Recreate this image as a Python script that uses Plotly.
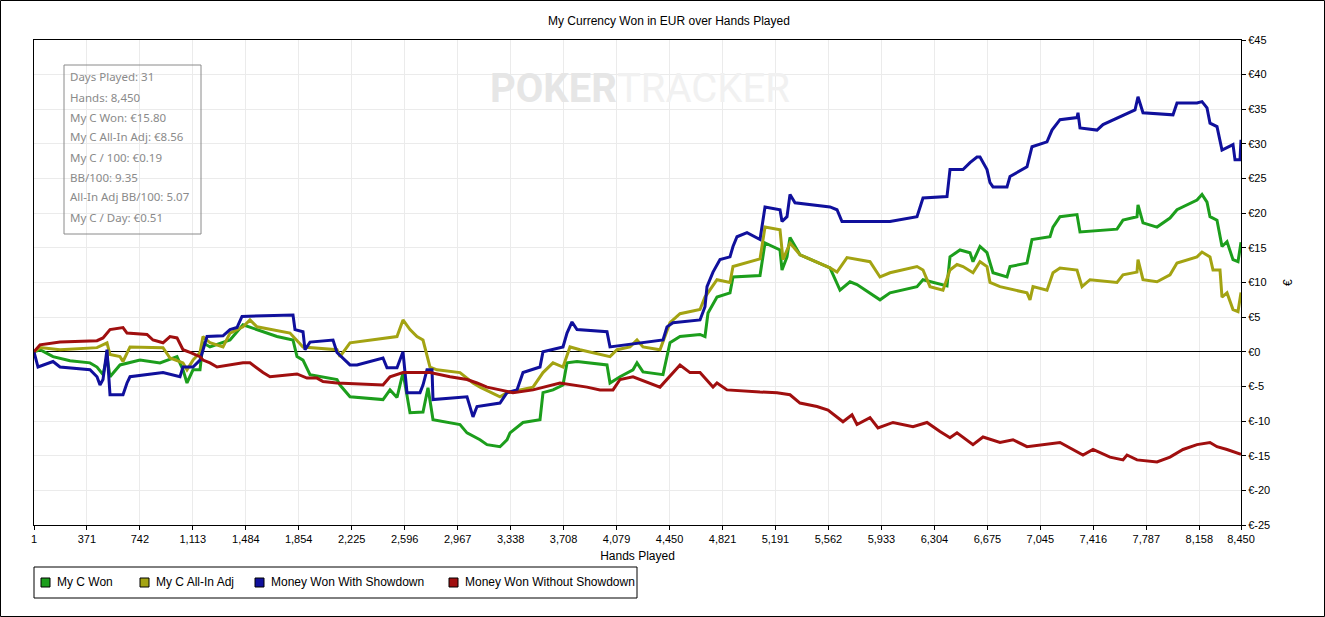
import plotly.graph_objects as go

# --- data (hands played, EUR) ---
green_hands = [1, 43, 134, 253, 393, 442, 484, 512, 533, 603, 743, 883, 1002, 1044, 1072, 1114, 1163, 1184, 1233,
               1373, 1464, 1562, 1702, 1814, 1842, 1884, 1933, 2122, 2143, 2213, 2444, 2493, 2542, 2584, 2633, 2724,
               2759, 2794, 2983, 3032, 3123, 3172, 3263, 3312, 3333, 3424, 3543, 3564, 3634, 3704, 3732, 3802, 4012,
               4033, 4103, 4194, 4222, 4264, 4404, 4453, 4523, 4663, 4698, 4719, 4782, 4873, 4894, 5083, 5118, 5223,
               5237, 5272, 5293, 5363, 5573, 5643, 5713, 5762, 5853, 5923, 5993, 6182, 6224, 6392, 6413, 6483, 6553,
               6574, 6623, 6672, 6714, 6812, 6833, 6952, 6987, 7113, 7134, 7183, 7302, 7323, 7582, 7624, 7722, 7729,
               7764, 7862, 7953, 8002, 8142, 8177, 8212, 8233, 8282, 8317, 8352, 8394, 8429, 8450]
green_won = [0, 0.3, -0.7, -1.3, -1.6, -2.2, -3.3, -0.7, -3.6, -1.9, -1.2, -1.6, -0.7, -2.6, -4.5, -2.6, -2.6, 1.3, 0.7,
             1.7, 3.9, 3.2, 2.2, 1.7, -0.7, -1.2, -3.3, -4.0, -4.8, -6.5, -6.9, -5.5, -6.6, -3.0, -8.8, -8.7,
             -5.2, -9.8, -10.5, -11.7, -12.7, -13.4, -13.7, -12.7, -11.7, -10.2, -9.8, -5.9, -5.5, -4.8, -1.6, -1.4, -1.9,
             -4.5, -3.6, -2.6, -1.6, -2.9, -3.3, 1.3, 2.2, 2.5, 2.2, 5.6, 7.9, 8.5, 10.8, 11.0, 15.7, 14.7,
             11.8, 13.7, 16.5, 14.0, 12.1, 8.9, 10.1, 9.7, 8.4, 7.5, 8.5, 9.4, 10.4, 9.5, 13.7, 14.7, 14.3,
             13.0, 15.2, 14.3, 11.4, 10.8, 12.3, 12.8, 16.2, 16.6, 18.0, 19.5, 19.8, 17.3, 17.7, 19.0, 19.5, 21.2,
             18.6, 18.0, 19.3, 20.5, 21.9, 22.7, 21.6, 19.5, 19.0, 15.2, 15.9, 13.3, 13.0, 15.8]

yellow_hands = [1, 43, 183, 442, 512, 533, 603, 624, 673, 904, 953, 1044, 1072, 1114, 1163, 1184, 1233, 1324, 1373,
                1464, 1513, 1562, 1793, 1842, 1884, 2122, 2143, 2213, 2542, 2584, 2633, 2682, 2724, 2773, 2822, 2983,
                3074, 3123, 3263, 3312, 3403, 3494, 3564, 3634, 3704, 3753, 3823, 4033, 4082, 4173, 4222, 4264, 4383,
                4453, 4523, 4663, 4698, 4782, 4873, 4894, 5083, 5118, 5223, 5244, 5293, 5363, 5573, 5622, 5692, 5853,
                5923, 5993, 6182, 6224, 6273, 6364, 6413, 6462, 6504, 6574, 6623, 6672, 6693, 6763, 6952, 6973, 6994,
                7092, 7134, 7183, 7302, 7337, 7393, 7582, 7624, 7722, 7729, 7764, 7862, 7953, 8002, 8142, 8177, 8233,
                8254, 8303, 8317, 8352, 8394, 8429, 8450]
yellow_adj = [0, 0.6, 0.3, 0.6, 1.3, -0.4, -0.7, -1.4, 0.7, 0.6, -0.9, -1.6, -2.6, -1.2, -0.1, 2.2, 1.3, 0.7, 2.7,
              3.6, 4.6, 3.6, 2.7, 1.7, 0.7, 0.3, -0.7, 1.3, 2.2, 4.6, 3.2, 2.2, 1.7, -2.2, -2.6, -3.0,
              -4.5, -5.1, -6.5, -5.9, -5.5, -5.1, -3.0, -1.6, -2.2, 0.7, 0.3, -0.7, 0.3, 0.7, 1.7, 0.7, 0.3,
              4.2, 5.5, 6.1, 7.9, 10.4, 10.0, 12.3, 13.4, 18.0, 17.6, 13.3, 15.7, 14.0, 12.1, 11.5, 13.6, 13.0,
              10.8, 11.4, 12.3, 11.8, 9.4, 8.9, 11.8, 12.6, 12.3, 11.4, 13.0, 12.3, 10.0, 9.4, 8.5, 7.5, 9.4,
              8.9, 11.4, 12.1, 11.8, 9.4, 10.4, 10.0, 11.1, 11.5, 13.3, 10.4, 10.1, 11.1, 12.8, 13.7, 14.4, 13.7,
              11.8, 11.8, 7.9, 8.5, 6.1, 5.8, 8.56]

blue_hands = [1, 29, 134, 183, 393, 442, 463, 484, 512, 533, 624, 652, 673, 904, 1023, 1044, 1114, 1163, 1212, 1324,
              1373, 1422, 1457, 1814, 1828, 1884, 1898, 1933, 2094, 2122, 2213, 2262, 2444, 2472, 2542, 2584, 2612,
              2703, 2724, 2752, 2787, 2794, 3032, 3074, 3102, 3263, 3312, 3382, 3424, 3543, 3564, 3704, 3732, 3767,
              3802, 4012, 4033, 4404, 4432, 4474, 4663, 4698, 4712, 4754, 4803, 4873, 4894, 4922, 4992, 5083, 5118,
              5223, 5237, 5272, 5293, 5328, 5573, 5622, 5657, 5944, 5993, 6182, 6224, 6392, 6413, 6504, 6553, 6602,
              6623, 6672, 6693, 6714, 6812, 6833, 6952, 6987, 7092, 7127, 7183, 7302, 7309, 7323, 7442, 7484, 7673,
              7708, 7729, 7764, 7974, 8002, 8142, 8177, 8212, 8233, 8282, 8317, 8394, 8408, 8443, 8450]
blue_sd = [0, -2.2, -1.4, -2.2, -2.6, -3.6, -4.8, -4.0, 0.3, -6.2, -6.2, -4.5, -3.6, -3.0, -3.6, -2.2, -2.2, -1.2, 2.2, 2.3,
           3.2, 3.5, 5.1, 5.3, 3.2, 2.9, 0.3, 1.4, 1.7, -0.1, -1.9, -1.9, -0.9, -2.3, -2.3, 0, -5.9,
           -5.9, -4.8, -2.6, -2.6, -6.9, -6.5, -9.4, -7.9, -7.4, -5.9, -5.5, -3.0, -2.2, 0, 0.7, 2.7, 4.3,
           3.2, 2.9, 0.7, 1.7, 3.6, 4.2, 4.6, 6.5, 9.4, 11.5, 13.3, 13.7, 15.2, 16.6, 17.2, 16.2, 20.9,
           20.5, 18.8, 19.5, 22.7, 21.5, 20.9, 20.5, 18.8, 18.8, 18.8, 19.5, 22.2, 22.4, 26.3, 26.3, 27.3, 28.1,
           28.1, 26.3, 24.4, 23.8, 23.8, 25.3, 26.7, 29.6, 30.3, 32.0, 33.5, 33.8, 34.5, 32.3, 32.0, 32.8, 34.5,
           34.9, 36.8, 34.5, 34.2, 35.9, 35.9, 36.1, 35.2, 33.0, 32.5, 29.1, 29.9, 27.7, 27.7, 30.6]

red_hands = [1, 43, 183, 442, 484, 533, 624, 652, 792, 834, 904, 953, 1002, 1044, 1093, 1163, 1184, 1233, 1282, 1464,
             1513, 1604, 1653, 1842, 1912, 1982, 2024, 2122, 2444, 2493, 2584, 2773, 2913, 3032, 3102, 3172, 3263,
             3354, 3494, 3564, 3683, 3872, 3963, 4054, 4103, 4194, 4243, 4383, 4523, 4593, 4663, 4754, 4782, 4852,
             5083, 5202, 5293, 5363, 5482, 5559, 5664, 5727, 5762, 5853, 5909, 6014, 6154, 6252, 6343, 6413, 6462,
             6574, 6644, 6763, 6854, 6952, 7183, 7344, 7414, 7533, 7624, 7652, 7722, 7862, 7953, 8044, 8142, 8233,
             8282, 8352, 8450]
red_nsd = [0, 1.0, 1.4, 1.6, 2.0, 3.2, 3.5, 2.7, 2.5, 1.7, 1.3, 2.2, 2.0, 0.3, -0.1, -0.7, -1.2, -1.6, -2.2, -1.6,
           -1.6, -3.0, -3.6, -3.2, -3.8, -3.8, -4.3, -4.5, -4.8, -3.6, -3.0, -3.0, -3.6, -4.0, -4.5, -5.1, -5.5,
           -5.9, -5.5, -5.1, -4.5, -5.1, -5.5, -5.5, -4.0, -3.6, -4.0, -5.1, -1.9, -3.0, -3.0, -5.1, -4.5, -5.5,
           -5.8, -5.9, -6.2, -7.4, -7.9, -8.4, -10.1, -9.1, -10.5, -9.5, -11.0, -10.2, -10.8, -10.2, -11.5, -12.4, -11.7,
           -13.4, -12.3, -13.1, -12.7, -13.7, -13.1, -14.9, -14.1, -15.2, -15.6, -14.9, -15.6, -15.9, -15.2, -14.1, -13.4, -13.1,
           -13.7, -14.1, -14.8]

series_names = ["My C Won", "My C All-In Adj", "Money Won With Showdown", "Money Won Without Showdown"]
series_colors = ["#1c9e1c", "#a3a312", "#10109c", "#a00f0f"]

x_ticks = [1, 371, 742, 1113, 1484, 1854, 2225, 2596, 2967, 3338, 3708, 4079, 4450, 4821, 5191, 5562,
           5933, 6304, 6675, 7045, 7416, 7787, 8158, 8450]
y_ticks = list(range(-25, 50, 5))

stats_lines = ["Days Played: 31", "Hands: 8,450", "My C Won: €15.80", "My C All-In Adj: €8.56",
               "My C / 100: €0.19", "BB/100: 9.35", "All-In Adj BB/100: 5.07", "My C / Day: €0.51"]

# --- figure geometry (pixels) ---
W, H = 1325, 617
L, R, T, B = 34, 1241, 40, 525


def px(x):
    return (x - L) / (R - L)


def py(y):
    return (B - y) / (B - T)


fig = go.Figure()

data = [(green_hands, green_won), (yellow_hands, yellow_adj), (blue_hands, blue_sd), (red_hands, red_nsd)]
for (hx, hy), name, col in zip(data, series_names, series_colors):
    fig.add_trace(go.Scatter(x=hx, y=hy, mode="lines", name=name, showlegend=False,
                             line=dict(color=col, width=3), hoverinfo="skip"))

axis_font = dict(family="Liberation Sans, Arial, sans-serif", size=11, color="#000")

fig.update_layout(
    width=W, height=H,
    margin=dict(l=L, r=W - R, t=T, b=H - B),
    paper_bgcolor="white", plot_bgcolor="white",
    font=dict(family="Liberation Sans, Arial, sans-serif", size=12, color="#000"),
    showlegend=False,
    xaxis=dict(range=[1, 8450], tickvals=x_ticks, tickformat=",d", tickfont=axis_font,
               showgrid=True, gridcolor="#ebebeb", gridwidth=1,
               showline=True, linecolor="black", linewidth=1, mirror=True,
               ticks="outside", ticklen=4, tickcolor="black", zeroline=False,
               title=dict(text="Hands Played", font=dict(size=12), standoff=7)),
    yaxis=dict(range=[-25, 45], side="right", tickvals=y_ticks,
               ticktext=["€" + str(v) for v in y_ticks], tickfont=axis_font,
               showgrid=True, gridcolor="#ebebeb", gridwidth=1,
               showline=True, linecolor="black", linewidth=1, mirror=True,
               ticks="outside", ticklen=4, tickcolor="black",
               zeroline=True, zerolinecolor="black", zerolinewidth=1),
)

annotations = [
    dict(text="My Currency Won in EUR over Hands Played", x=px(669), y=py(21), xref="paper", yref="paper",
         xanchor="center", yanchor="middle", showarrow=False,
         font=dict(size=12, family="Liberation Sans, Arial, sans-serif")),
    dict(text="€", x=px(1288), y=py(283), xref="paper", yref="paper", xanchor="center", yanchor="middle",
         showarrow=False, textangle=-90, font=dict(size=12)),
    dict(text="<b>POKER</b><span style='color:#f1f1f1'>TRACKER</span>", x=px(640), y=py(89),
         xref="paper", yref="paper", xanchor="center", yanchor="middle", showarrow=False,
         font=dict(size=40, family="Roboto, sans-serif", color="#e6e6e6")),
]
for i, line in enumerate(stats_lines):
    annotations.append(dict(text=line, x=px(68), y=py(77 + 20 * i), xref="paper", yref="paper",
                            xanchor="left", yanchor="middle", showarrow=False,
                            font=dict(size=11.5, family="Noto Sans, Open Sans, sans-serif", color="#8a8a8a")))

shapes = [
    dict(type="rect", xref="paper", yref="paper", x0=px(64), x1=px(201), y0=py(234), y1=py(65),
         line=dict(color="#8a8a8a", width=1), fillcolor="rgba(255,255,255,0)", layer="above"),
    dict(type="rect", xref="paper", yref="paper", x0=px(0.5), x1=px(W - 0.5), y0=py(H - 0.5), y1=py(0.5),
         line=dict(color="black", width=1)),
    # legend frame
    dict(type="rect", xref="paper", yref="paper", x0=px(34), x1=px(637), y0=py(598), y1=py(567),
         line=dict(color="black", width=1), fillcolor="white"),
]

# legend swatches and labels
legend_swatch_x = [41, 140, 255, 449]
for sx, name, col in zip(legend_swatch_x, series_names, series_colors):
    shapes.append(dict(type="rect", xref="paper", yref="paper", x0=px(sx), x1=px(sx + 9),
                       y0=py(587), y1=py(578), line=dict(color="black", width=1), fillcolor=col))
    annotations.append(dict(text=name, x=px(sx + 14), y=py(582), xref="paper", yref="paper",
                            xanchor="left", yanchor="middle", showarrow=False,
                            font=dict(size=12, family="Liberation Sans, Arial, sans-serif")))

fig.update_layout(annotations=annotations, shapes=shapes)

fig.write_html("out.html", config={"displayModeBar": False},
               post_script="document.body.style.margin='0px';document.body.style.overflow='hidden';")
